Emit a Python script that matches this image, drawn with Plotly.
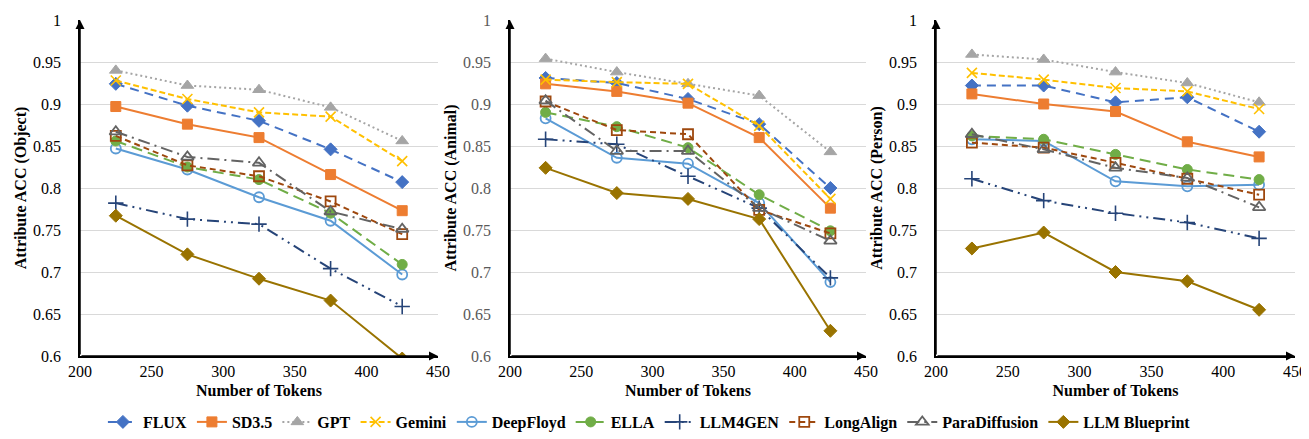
import plotly.graph_objects as go

# ---------------- data ----------------
tokens = [225, 275, 325, 375, 425]

series_names = ["FLUX", "SD3.5", "GPT", "Gemini", "DeepFloyd", "ELLA",
                "LLM4GEN", "LongAlign", "ParaDiffusion", "LLM Blueprint"]

# Attribute ACC (Object)
obj_flux = [0.924, 0.898, 0.880, 0.846, 0.807]
obj_sd35 = [0.897, 0.876, 0.860, 0.816, 0.773]
obj_gpt = [0.940, 0.922, 0.917, 0.896, 0.856]
obj_gemini = [0.928, 0.906, 0.890, 0.885, 0.832]
obj_deepfloyd = [0.847, 0.822, 0.789, 0.761, 0.697]
obj_ella = [0.856, 0.825, 0.810, 0.770, 0.709]
obj_llm4gen = [0.782, 0.763, 0.757, 0.704, 0.659]
obj_longalign = [0.862, 0.827, 0.814, 0.784, 0.745]
obj_paradiffusion = [0.867, 0.837, 0.830, 0.772, 0.751]
obj_blueprint = [0.767, 0.721, 0.692, 0.666, 0.597]

# Attribute ACC (Animal)
ani_flux = [0.931, 0.925, 0.906, 0.876, 0.800]
ani_sd35 = [0.924, 0.915, 0.901, 0.860, 0.776]
ani_gpt = [0.954, 0.938, 0.924, 0.910, 0.843]
ani_gemini = [0.929, 0.926, 0.924, 0.874, 0.787]
ani_deepfloyd = [0.883, 0.836, 0.829, 0.782, 0.688]
ani_ella = [0.890, 0.873, 0.848, 0.792, 0.749]
ani_llm4gen = [0.858, 0.852, 0.814, 0.776, 0.693]
ani_longalign = [0.903, 0.869, 0.864, 0.774, 0.746]
ani_paradiffusion = [0.904, 0.844, 0.844, 0.776, 0.737]
ani_blueprint = [0.824, 0.794, 0.787, 0.763, 0.630]

# Attribute ACC (Person)
per_flux = [0.922, 0.922, 0.902, 0.908, 0.867]
per_sd35 = [0.912, 0.900, 0.891, 0.855, 0.837]
per_gpt = [0.959, 0.953, 0.938, 0.925, 0.902]
per_gemini = [0.937, 0.929, 0.919, 0.915, 0.894]
per_deepfloyd = [0.858, 0.856, 0.808, 0.802, 0.804]
per_ella = [0.862, 0.858, 0.840, 0.822, 0.810]
per_llm4gen = [0.811, 0.785, 0.770, 0.759, 0.740]
per_longalign = [0.854, 0.848, 0.830, 0.811, 0.792]
per_paradiffusion = [0.864, 0.846, 0.824, 0.812, 0.777]
per_blueprint = [0.728, 0.747, 0.700, 0.689, 0.655]

panel_titles = ["Attribute ACC (Object)", "Attribute ACC (Animal)", "Attribute ACC (Person)"]
x_title = "Number of Tokens"

x_ticks = [200, 250, 300, 350, 400, 450]
y_ticks = [0.6, 0.65, 0.7, 0.75, 0.8, 0.85, 0.9, 0.95, 1.0]
y_tick_labels = ["0.6", "0.65", "0.7", "0.75", "0.8", "0.85", "0.9", "0.95", "1"]

panels = [
    [obj_flux, obj_sd35, obj_gpt, obj_gemini, obj_deepfloyd, obj_ella,
     obj_llm4gen, obj_longalign, obj_paradiffusion, obj_blueprint],
    [ani_flux, ani_sd35, ani_gpt, ani_gemini, ani_deepfloyd, ani_ella,
     ani_llm4gen, ani_longalign, ani_paradiffusion, ani_blueprint],
    [per_flux, per_sd35, per_gpt, per_gemini, per_deepfloyd, per_ella,
     per_llm4gen, per_longalign, per_paradiffusion, per_blueprint],
]

# ---------------- styles ----------------
styles = [
    dict(color="#4472C4", dash="9px,6px", symbol="diamond", size=10, mlw=1),
    dict(color="#ED7D31", dash="solid", symbol="square", size=10, mlw=1),
    dict(color="#A5A5A5", dash="2px,3px", symbol="triangle-up", size=11, mlw=1),
    dict(color="#FFC000", dash="6px,3px", symbol="x-thin-open", size=10, mlw=1.6),
    dict(color="#5B9BD5", dash="solid", symbol="circle-open", size=10, mlw=1.8),
    dict(color="#70AD47", dash="11px,6px", symbol="circle", size=10, mlw=1),
    dict(color="#264478", dash="12px,5px,2px,5px,2px,5px", symbol="cross-thin-open", size=11, mlw=1.6),
    dict(color="#9E480E", dash="6px,4px", symbol="square-open", size=10, mlw=1.8),
    dict(color="#636363", dash="12px,5px,2px,5px", symbol="triangle-up-open", size=11, mlw=1.8),
    dict(color="#997300", dash="solid", symbol="diamond", size=10, mlw=1),
]

FONT = "Liberation Serif"

fig = go.Figure()

W, H = 1309, 439
x_domains = [[72 / W, 430 / W], [502 / W, 858 / W], [928 / W, 1287 / W]]
y_domain = [1 - 348 / H, 1 - 12 / H]

for p, series in enumerate(panels):
    xa = "x" if p == 0 else f"x{p+1}"
    ya = "y" if p == 0 else f"y{p+1}"
    for i, vals in enumerate(series):
        st = styles[i]
        fig.add_trace(go.Scatter(
            x=tokens, y=vals, name=series_names[i],
            mode="lines+markers",
            line=dict(color=st["color"], width=2, dash=st["dash"]),
            marker=dict(symbol=st["symbol"], size=st["size"], color=st["color"],
                        line=dict(color=st["color"], width=st["mlw"])),
            xaxis=xa, yaxis=ya,
            legendgroup=series_names[i], showlegend=(p == 0),
        ))

layout = dict(
    width=W, height=H,
    margin=dict(l=0, r=0, t=0, b=0, autoexpand=False),
    paper_bgcolor="white", plot_bgcolor="white",
    font=dict(family=FONT, color="black", size=16),
    legend=dict(orientation="h", x=0.49, xanchor="center", y=1 - 414 / H, yanchor="middle",
                font=dict(family=FONT, size=16, color="black", weight="bold"),
                itemwidth=30, tracegroupgap=0, bgcolor="rgba(0,0,0,0)"),
)

annotations = []
for p in range(3):
    sfx = "" if p == 0 else str(p + 1)
    ytick_color = "#595959" if p == 1 else "black"
    layout["xaxis" + sfx] = dict(
        domain=x_domains[p], range=[200, 450], anchor="y" + sfx, automargin=False,
        tickvals=x_ticks, showgrid=False, zeroline=False,
        showline=True, linecolor="black", linewidth=1.5, ticks="",
        ticklabelstandoff=0, ticklabeloverflow="allow",
        tickfont=dict(family=FONT, size=16, color="black"),
        title=dict(text=x_title, font=dict(family=FONT, size=16, weight="bold", color="black"),
                   standoff=6),
    )
    layout["yaxis" + sfx] = dict(
        domain=y_domain, range=[0.6, 1.0], anchor="x" + sfx, automargin=False,
        tickvals=y_ticks, ticktext=y_tick_labels,
        showgrid=True, gridcolor="#D9D9D9", gridwidth=1, zeroline=False,
        showline=True, linecolor="black", linewidth=1.5, ticks="",
        ticklabelstandoff=14,
        tickfont=dict(family=FONT, size=16, color=ytick_color),
        title=dict(text=panel_titles[p], font=dict(family=FONT, size=16, weight="bold", color="black"),
                   standoff=2),
    )
    # arrowheads on axes
    annotations.append(dict(xref="x" + sfx, yref="y" + sfx, axref="x" + sfx, ayref="y" + sfx,
                            x=200, y=1.0, ax=200, ay=0.6, text="", showarrow=True,
                            arrowhead=2, arrowsize=1.2, arrowwidth=1.5, arrowcolor="black",
                            standoff=0, startstandoff=0))
    annotations.append(dict(xref="x" + sfx, yref="y" + sfx, axref="x" + sfx, ayref="y" + sfx,
                            x=450, y=0.6, ax=200, ay=0.6, text="", showarrow=True,
                            arrowhead=2, arrowsize=1.2, arrowwidth=1.5, arrowcolor="black",
                            standoff=0, startstandoff=0))
layout["annotations"] = annotations

fig.update_layout(**layout)
fig.write_html("out.html")
